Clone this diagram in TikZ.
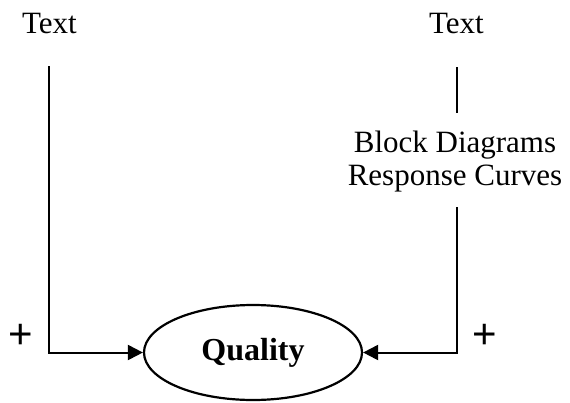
\documentclass[tikz,border=0pt]{standalone}
\usepackage{fontspec}
\setmainfont{Liberation Serif}
\newfontfamily\signfont{Liberation Sans}
\usetikzlibrary{arrows.meta,shapes.geometric}
\begin{document}
\begin{tikzpicture}[x=1pt,y=-1pt,
  lbl/.style={font=\fontsize{31}{33}\selectfont, inner sep=0pt},
  sign/.style={font=\signfont\fontsize{42}{42}\selectfont, inner sep=0pt},
  wire/.style={line width=2pt},
  feed/.style={wire, -{Triangle[length=15pt,width=15pt]}},
  qual/.style={ellipse, draw, line width=2.2pt, minimum width=218pt,
    minimum height=95pt, inner sep=0pt,
    font=\fontsize{32}{33}\selectfont\bfseries}]
  \useasboundingbox (0,0) rectangle (570,402);

  % inputs
  \node[lbl, anchor=base] (textL) at (49.5,33) {Text};
  \node[lbl, anchor=base] (textR) at (456.5,33) {Text};
  \node[lbl, align=center] (blocks) at (455,162) {Block Diagrams\\Response Curves};

  % output
  \node[qual] (quality) at (253,352.5) {Quality};

  % signs
  \node[sign] (plusL) at (21,336) {+};
  \node[sign] (plusR) at (485,336) {+};

  % line ends
  \coordinate (lTop) at (49,66);
  \coordinate (rTop) at (457,67);
  \coordinate (rMid1) at (457,113);
  \coordinate (rMid2) at (457,207);

  \draw[wire] (rTop) -- (rMid1);
  \draw[feed] (lTop) |- (quality.west);
  \draw[feed] (rMid2) |- (quality.east);
\end{tikzpicture}
\end{document}
